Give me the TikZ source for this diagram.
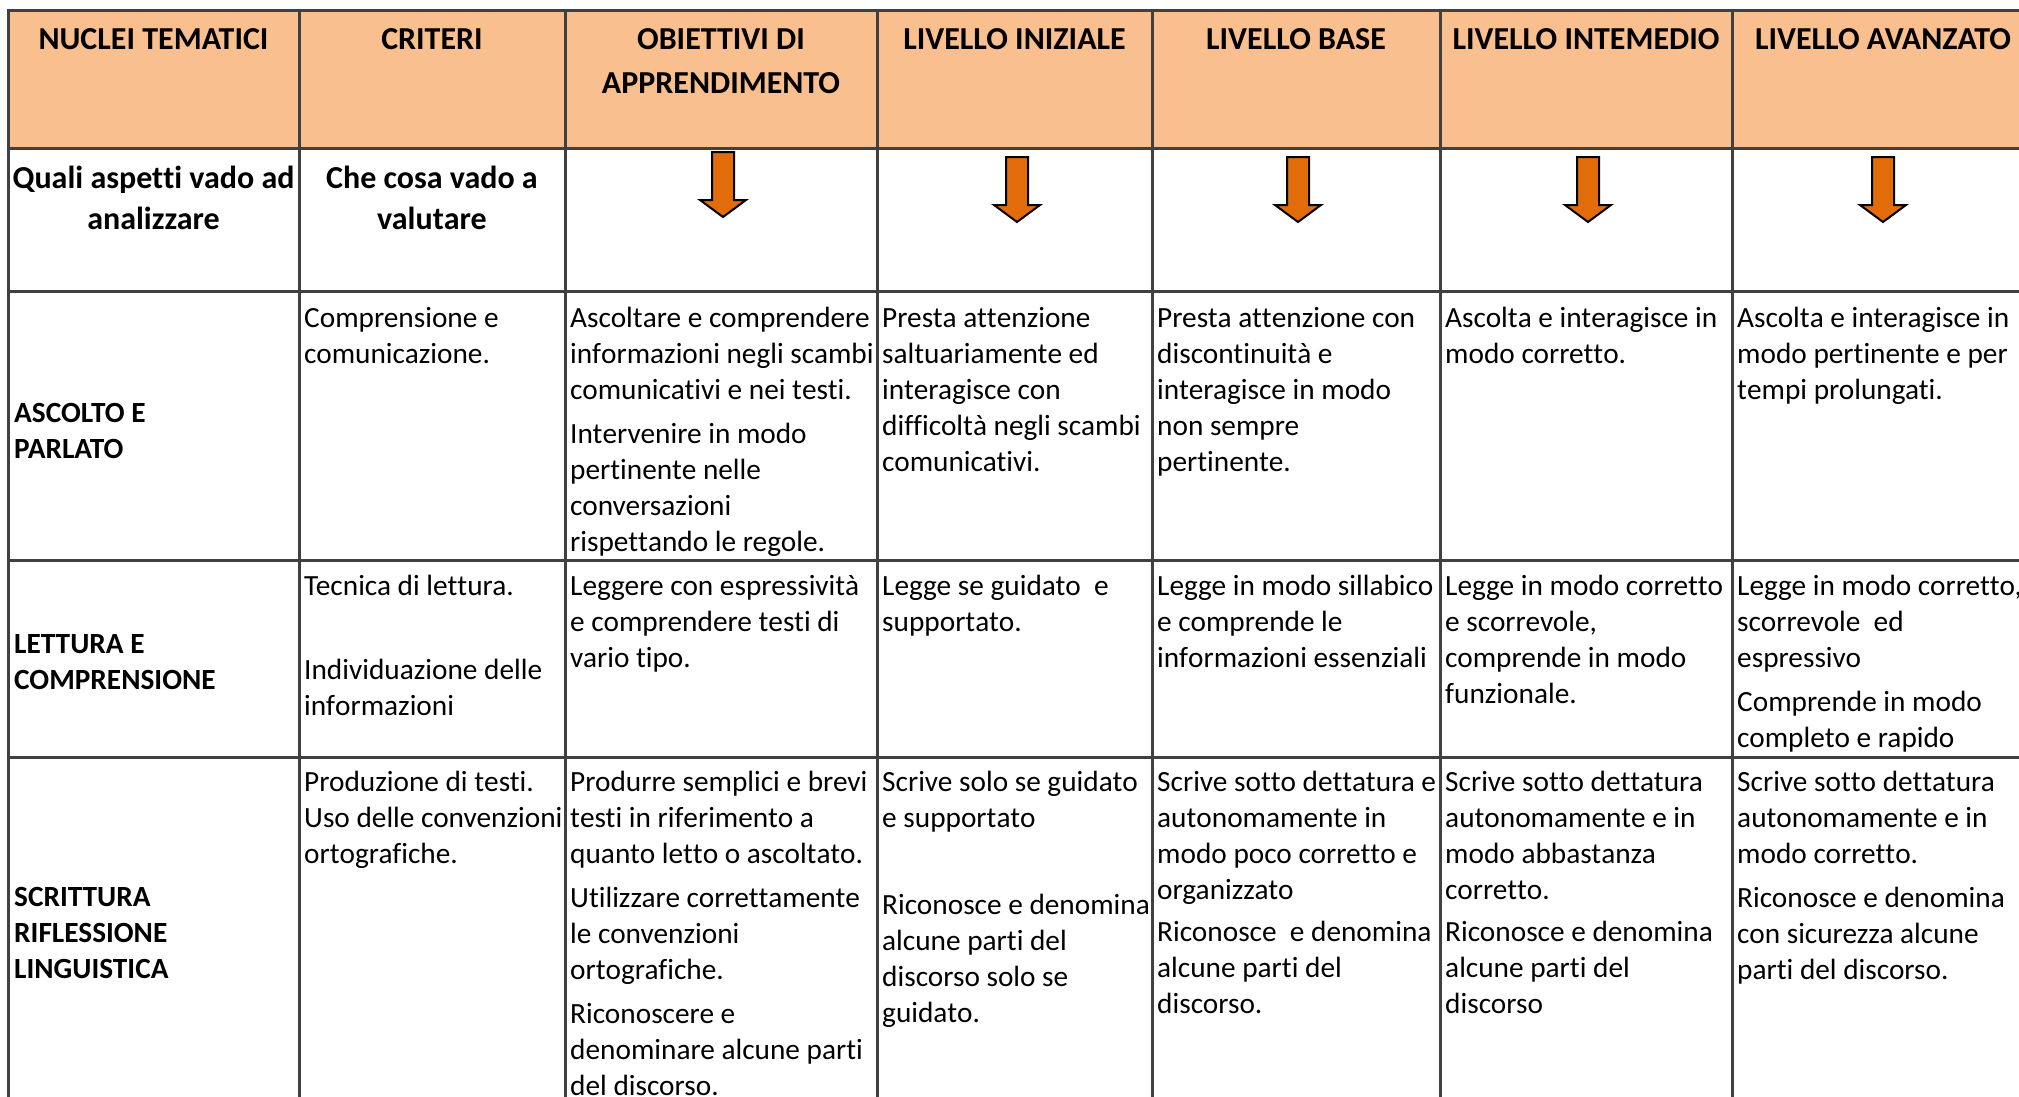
\documentclass[tikz,border=0pt]{standalone}
\usepackage{fontspec}
\setmainfont{Carlito}[Ligatures={NoCommon}]
\XeTeXinterchartokenstate=1
\newXeTeXintercharclass\ligbreak
\XeTeXcharclass`\t=\ligbreak
\XeTeXcharclass`\f=\ligbreak
\XeTeXinterchartoks\ligbreak 0={\kern0pt }
\XeTeXinterchartoks\ligbreak\ligbreak={\kern0pt }
\definecolor{hdr}{HTML}{F9BF8F}
\definecolor{arr}{HTML}{E36C0A}
\definecolor{gridc}{HTML}{404040}
\newcommand{\bodyfs}{\fontsize{29.3}{36}\selectfont}
\newcommand{\hdrfs}{\fontsize{32}{44}\selectfont\bfseries}
\newcommand{\qfs}{\fontsize{32}{41}\selectfont\bfseries}
\newcommand{\labfs}{\fontsize{29.3}{36}\selectfont\bfseries}
\begin{document}
\begin{tikzpicture}[x=1pt,y=-1pt,
  cell/.style={anchor=north west,inner sep=0pt,align=left,font=\bodyfs},
  lab/.style={anchor=north west,inner sep=0pt,align=left,font=\labfs},
  hdrtext/.style={anchor=north,inner sep=0pt,align=center,font=\hdrfs},
  quest/.style={anchor=north,inner sep=0pt,align=center,font=\qfs},
  gridline/.style={draw=gridc,line width=3pt},
  downarrow/.style={fill=arr,draw=black,line width=2pt,line join=miter}]
\useasboundingbox (0,0) rectangle (2019,1096);
\clip (0,0) rectangle (2019,1096);
\fill[white] (0,0) rectangle (2019,1096);
% header band
\fill[hdr] (8,10) rectangle (2040,148);
% grid
\foreach \yy in {10,148,291,560,757}{\draw[gridline] (6.5,\yy) -- (2040,\yy);}
\foreach \xx in {8,299,565,877,1152,1440,1732,2034}{\draw[gridline] (\xx,8.5) -- (\xx,1100);}
% header
\node[hdrtext] (h1) at (153.5,18.2) {\strut NUCLEI TEMATICI};
\node[hdrtext] (h2) at (432,18.2) {\strut CRITERI};
\node[hdrtext] (h3) at (721,18.2) {\strut OBIETTIVI DI\\APPRENDIMENTO};
\node[hdrtext] (h4) at (1014.5,18.2) {\strut LIVELLO INIZIALE};
\node[hdrtext] (h5) at (1296,18.2) {\strut LIVELLO BASE};
\node[hdrtext] (h6) at (1586,18.2) {\strut LIVELLO INTEMEDIO};
\node[hdrtext] (h7) at (1883,18.2) {\strut LIVELLO AVANZATO};
% row 2
\node[quest] (q1) at (153.5,159.3) {\strut Quali aspetti vado ad\\analizzare};
\node[quest] (q2) at (432,159.3) {\strut Che cosa vado a\\valutare};
\foreach \ax/\at in {723/152,1017/157,1298/157,1588/157,1883/157}{
  \draw[downarrow] (\ax-11,\at) -- (\ax+11,\at) -- (\ax+11,\at+48) -- (\ax+23,\at+48)
    -- (\ax,\at+65) -- (\ax-23,\at+48) -- (\ax-11,\at+48) -- cycle;}
% row 3
\node[lab] (l1) at (14,397.4) {\strut ASCOLTO E\\PARLATO};
\node[cell] (c32) at (304,302.3) {\strut Comprensione e\\comunicazione.};
\node[cell] (c33) at (570,302.3) {\strut Ascoltare e comprendere\\informazioni negli scambi\\comunicativi e nei testi.\\[8pt]Intervenire in modo\\pertinente nelle\\conversazioni\\rispettando le regole.};
\node[cell] (c34) at (882,302.3) {\strut Presta attenzione\\saltuariamente ed\\interagisce con\\difficoltà negli scambi\\comunicativi.};
\node[cell] (c35) at (1157,302.3) {\strut Presta attenzione con\\discontinuità e\\interagisce in modo\\non sempre\\pertinente.};
\node[cell] (c36) at (1445,302.3) {\strut Ascolta e interagisce in\\modo corretto.};
\node[cell] (c37) at (1737,302.3) {\strut Ascolta e interagisce in\\modo pertinente e per\\tempi prolungati.};
% row 4
\node[lab] (l2) at (14,628.4) {\strut LETTURA E\\COMPRENSIONE};
\node[cell] (c42a) at (304,570.3) {\strut Tecnica di lettura.};
\node[cell] (c42b) at (304,653.8) {\strut Individuazione delle\\informazioni};
\node[cell] (c43) at (570,570.3) {\strut Leggere con espressività\\e comprendere testi di\\vario tipo.};
\node[cell] (c44) at (882,570.3) {\strut Legge se guidato~ e\\supportato.};
\node[cell] (c45) at (1157,570.3) {\strut Legge in modo sillabico\\e comprende le\\informazioni essenziali};
\node[cell] (c46) at (1445,570.3) {\strut Legge in modo corretto\\e scorrevole,\\comprende in modo\\funzionale.};
\node[cell] (c47) at (1737,570.3) {\strut Legge in modo corretto,\\scorrevole~ ed\\espressivo\\[8pt]Comprende in modo\\completo e rapido};
% row 5
\node[lab] (l3) at (14,880.8) {\strut SCRITTURA\\RIFLESSIONE\\LINGUISTICA};
\node[cell] (c52) at (304,766.3) {\strut Produzione di testi.\\Uso delle convenzioni\\ortografiche.};
\node[cell] (c53) at (570,766.3) {\strut Produrre semplici e brevi\\testi in riferimento a\\quanto letto o ascoltato.\\[8pt]Utilizzare correttamente\\le convenzioni\\ortografiche.\\[8pt]Riconoscere e\\denominare alcune parti\\del discorso.};
\node[cell] (c54a) at (882,766.3) {\strut Scrive solo se guidato\\e supportato};
\node[cell] (c54b) at (882,889.5) {\strut Riconosce e denomina\\alcune parti del\\discorso solo se\\guidato.};
\node[cell] (c55) at (1157,766.3) {\strut Scrive sotto dettatura e\\autonomamente in\\modo poco corretto e\\organizzato\\[6pt]Riconosce~ e denomina\\alcune parti del\\discorso.};
\node[cell] (c56) at (1445,766.3) {\strut Scrive sotto dettatura\\autonomamente e in\\modo abbastanza\\corretto.\\[6pt]Riconosce e denomina\\alcune parti del\\discorso};
\node[cell] (c57) at (1737,766.3) {\strut Scrive sotto dettatura\\autonomamente e in\\modo corretto.\\[8pt]Riconosce e denomina\\con sicurezza alcune\\parti del discorso.};
\end{tikzpicture}
\end{document}
